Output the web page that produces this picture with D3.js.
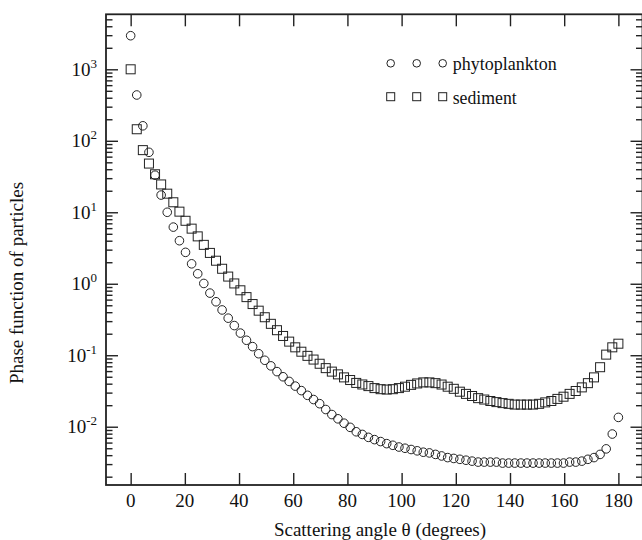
<!DOCTYPE html>
<html><head><meta charset="utf-8">
<script src="https://cdn.jsdelivr.net/npm/d3@7"></script>
<style>
body{margin:0;background:#fff}
svg{display:block}
text{font-family:"Liberation Serif","Times New Roman",serif;fill:#111}
</style>
</head><body><svg id="c" width="642" height="540"></svg>
<script>
// ---- data ----
const angles = [
 0,2.25,4.5,6.75,9,11.25,13.5,15.75,18,20.25,
 22.5,24.75,27,29.25,31.5,33.75,36,38.25,40.5,42.75,
 45,47.25,49.5,51.75,54,56.25,58.5,60.75,63,65.25,
 67.5,69.75,72,74.25,76.5,78.75,81,83.25,85.5,87.75,
 90,92.25,94.5,96.75,99,101.25,103.5,105.75,108,110.25,
 112.5,114.75,117,119.25,121.5,123.75,126,128.25,130.5,132.75,
 135,137.25,139.5,141.75,144,146.25,148.5,150.75,153,155.25,
 157.5,159.75,162,164.25,166.5,168.75,171,173.25,175.5,177.75,
 180];
const phytoplankton = [
 2950,437,162,69,33,17.4,10.0,6.2,4.0,2.75,
 1.9,1.38,1.01,0.74,0.56,0.43,0.33,0.26,0.204,0.162,
 0.132,0.105,0.085,0.071,0.059,0.050,0.043,0.037,0.032,0.0275,
 0.024,0.021,0.0174,0.0148,0.0129,0.0112,0.0098,0.0085,0.0078,0.0071,
 0.0066,0.0062,0.0058,0.0055,0.0052,0.0050,0.0048,0.0046,0.0044,0.0043,
 0.0041,0.0039,0.0037,0.0036,0.0035,0.0034,0.0033,0.0032,0.0032,0.0032,
 0.0032,0.0031,0.0031,0.0031,0.0031,0.0031,0.0031,0.0031,0.0031,0.0031,
 0.0031,0.0031,0.0032,0.0032,0.0033,0.0035,0.0037,0.0041,0.0049,0.0079,
 0.0135];
const sediment = [
 1000,145,74,48,34,24.5,18.2,13.8,10.2,7.6,
 5.9,4.6,3.5,2.7,2.1,1.62,1.26,1.01,0.81,0.65,
 0.52,0.42,0.34,0.275,0.224,0.186,0.155,0.129,0.112,0.098,
 0.087,0.076,0.066,0.059,0.054,0.049,0.045,0.041,0.039,0.037,
 0.0347,0.0335,0.0331,0.0335,0.0347,0.0363,0.0385,0.0403,0.0417,0.0417,
 0.0407,0.0389,0.0363,0.0339,0.0309,0.0288,0.0269,0.0251,0.0240,0.0229,
 0.0221,0.0214,0.0209,0.0204,0.0204,0.0204,0.0204,0.0209,0.0219,0.0229,
 0.0245,0.0263,0.0288,0.0316,0.0355,0.0407,0.049,0.068,0.102,0.129,
 0.145];
const seriesNames = ["phytoplankton","sediment"];
const xTicks = [0,20,40,60,80,100,120,140,160,180];
const yTickExponents = [-2,-1,0,1,2,3];
const xDomain = [-9.1, 188.9];
const yDomain = [0.00153, 5880];
const xTitle = "Scattering angle \u03B8 (degrees)";
const yTitle = "Phase function of particles";

// ---- layout ----
const L = 106, R = 642.5, T = 14.3, B = 485;
const svg = d3.select("#c");
const x = d3.scaleLinear().domain(xDomain).range([L, R]);
const y = d3.scaleLog().domain(yDomain).range([B, T]);
const ink = "#222";

// minor y tick values
const yMinor = [];
for (let e = -3; e <= 3; e++) for (let k = 2; k <= 9; k++) {
  const v = k * Math.pow(10, e);
  if (v >= yDomain[0] && v <= yDomain[1]) yMinor.push(v);
}
const yMajor = yTickExponents.map(e => Math.pow(10, e));

function styleAxis(g) {
  g.select(".domain").remove();
  g.selectAll(".tick line").attr("stroke", ink).attr("stroke-width", 1.4);
  g.selectAll(".tick text").remove();
}
// x axes (bottom and top), ticks pointing inwards
svg.append("g").attr("transform", `translate(0,${B})`)
  .call(d3.axisBottom(x).tickValues(xTicks).tickSize(-12)).call(styleAxis);
svg.append("g").attr("transform", `translate(0,${T})`)
  .call(d3.axisTop(x).tickValues(xTicks).tickSize(-12)).call(styleAxis);
// y axes (left and right), majors and minors
svg.append("g").attr("transform", `translate(${L},0)`)
  .call(d3.axisLeft(y).tickValues(yMajor).tickSize(-12)).call(styleAxis);
svg.append("g").attr("transform", `translate(${L},0)`)
  .call(d3.axisLeft(y).tickValues(yMinor).tickSize(-6.5)).call(styleAxis);
svg.append("g").attr("transform", `translate(${R},0)`)
  .call(d3.axisRight(y).tickValues(yMajor).tickSize(-12)).call(styleAxis);
svg.append("g").attr("transform", `translate(${R},0)`)
  .call(d3.axisRight(y).tickValues(yMinor).tickSize(-6.5)).call(styleAxis);

// frame
svg.append("rect").attr("x", L).attr("y", T).attr("width", R - L).attr("height", B - T)
  .attr("fill", "none").attr("stroke", ink).attr("stroke-width", 1.8);

// x tick labels
svg.append("g").selectAll("text").data(xTicks).join("text")
  .attr("x", d => x(d)).attr("y", B + 21.5)
  .attr("text-anchor", "middle").attr("font-size", 19).text(d => d);

// y tick labels 10^n
const yl = svg.append("g").selectAll("text").data(yTickExponents).join("text")
  .attr("x", 97).attr("y", d => y(Math.pow(10, d)) + 6.5)
  .attr("text-anchor", "end").attr("font-size", 19);
yl.append("tspan").text("10");
yl.append("tspan").attr("font-size", 13).attr("dy", -8).text(d => d);

// axis titles
svg.append("text").attr("x", 380).attr("y", 535.5)
  .attr("text-anchor", "middle").attr("font-size", 19).text(xTitle);
svg.append("text").attr("transform", `translate(23,283) rotate(-90)`)
  .attr("text-anchor", "middle").attr("font-size", 19).text(yTitle);

// data marks
const pts = s => angles.map((a, i) => ({a, v: s[i]}));
svg.append("g").selectAll("circle").data(pts(phytoplankton)).join("circle")
  .attr("cx", d => x(d.a)).attr("cy", d => y(d.v)).attr("r", 4.3)
  .attr("fill", "none").attr("stroke", ink).attr("stroke-width", 1);
const sq = 9;
svg.append("g").selectAll("rect").data(pts(sediment)).join("rect")
  .attr("x", d => x(d.a) - sq / 2).attr("y", d => y(d.v) - sq / 2)
  .attr("width", sq).attr("height", sq)
  .attr("fill", "none").attr("stroke", ink).attr("stroke-width", 1);

// legend
const legX = [390.7, 416.7, 442.7];
const legY = [63.3, 96.7];
const lg = svg.append("g");
legX.forEach(lx => {
  lg.append("circle").attr("cx", lx).attr("cy", legY[0]).attr("r", 3.8)
    .attr("fill", "none").attr("stroke", ink).attr("stroke-width", 1);
  lg.append("rect").attr("x", lx - 4).attr("y", legY[1] - 4).attr("width", 8).attr("height", 8)
    .attr("fill", "none").attr("stroke", ink).attr("stroke-width", 1);
});
const legW = [104, 64];
seriesNames.forEach((n, i) => {
  lg.append("text").attr("x", 452.7).attr("y", legY[i] + 7)
    .attr("font-size", 19).attr("textLength", legW[i]).attr("lengthAdjust", "spacingAndGlyphs").text(n);
});
</script></body></html>
